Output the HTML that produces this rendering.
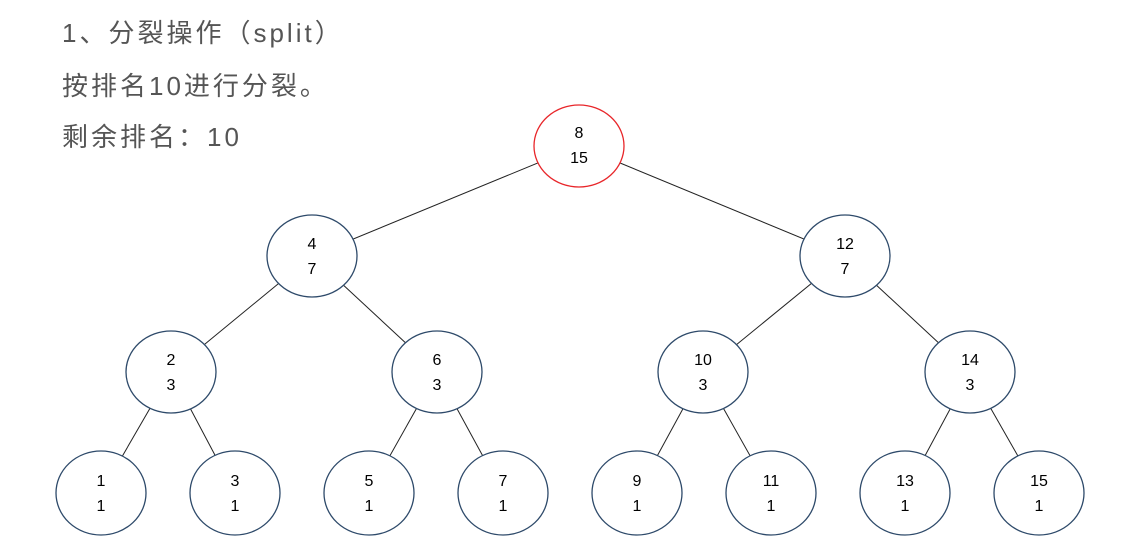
<!DOCTYPE html>
<html><head><meta charset="utf-8"><style>
html,body{margin:0;padding:0;background:#fff;width:1135px;height:556px;overflow:hidden;}
.t{position:absolute;left:62px;font-family:"Liberation Sans","Noto Sans CJK SC",sans-serif;font-size:26px;letter-spacing:3px;color:#555;line-height:30px;}
svg{position:absolute;left:0;top:0;}
</style></head><body>
<div class="t" style="top:18px">1、分裂操作（split）</div>
<div class="t" style="top:71px">按排名10进行分裂。</div>
<div class="t" style="top:122px">剩余排名：10</div>
<svg width="1135" height="556" viewBox="0 0 1135 556" font-family="Liberation Sans, Arial, sans-serif" font-size="16" text-anchor="middle">
<g stroke="#222" stroke-width="1">
<line x1="579" y1="146" x2="312" y2="256"/><line x1="579" y1="146" x2="845" y2="256"/>
<line x1="312" y1="256" x2="171" y2="372"/><line x1="312" y1="256" x2="437" y2="372"/>
<line x1="845" y1="256" x2="703" y2="372"/><line x1="845" y1="256" x2="970" y2="372"/>
<line x1="171" y1="372" x2="101" y2="493"/><line x1="171" y1="372" x2="235" y2="493"/>
<line x1="437" y1="372" x2="369" y2="493"/><line x1="437" y1="372" x2="503" y2="493"/>
<line x1="703" y1="372" x2="637" y2="493"/><line x1="703" y1="372" x2="771" y2="493"/>
<line x1="970" y1="372" x2="905" y2="493"/><line x1="970" y1="372" x2="1039" y2="493"/>
</g>
<g fill="#fff" stroke="#2e4a6a" stroke-width="1.3">
<ellipse cx="579" cy="146" rx="45" ry="41" stroke="#e8262a"/>
<ellipse cx="312" cy="256" rx="45" ry="41"/><ellipse cx="845" cy="256" rx="45" ry="41"/>
<ellipse cx="171" cy="372" rx="45" ry="41"/><ellipse cx="437" cy="372" rx="45" ry="41"/>
<ellipse cx="703" cy="372" rx="45" ry="41"/><ellipse cx="970" cy="372" rx="45" ry="41"/>
<ellipse cx="101" cy="493" rx="45" ry="42"/><ellipse cx="235" cy="493" rx="45" ry="42"/>
<ellipse cx="369" cy="493" rx="45" ry="42"/><ellipse cx="503" cy="493" rx="45" ry="42"/>
<ellipse cx="637" cy="493" rx="45" ry="42"/><ellipse cx="771" cy="493" rx="45" ry="42"/>
<ellipse cx="905" cy="493" rx="45" ry="42"/><ellipse cx="1039" cy="493" rx="45" ry="42"/>
</g>
<g fill="#000">
<text x="579" y="138">8</text><text x="579" y="163">15</text>
<text x="312" y="249">4</text><text x="312" y="274">7</text>
<text x="845" y="249">12</text><text x="845" y="274">7</text>
<text x="171" y="365">2</text><text x="171" y="390">3</text>
<text x="437" y="365">6</text><text x="437" y="390">3</text>
<text x="703" y="365">10</text><text x="703" y="390">3</text>
<text x="970" y="365">14</text><text x="970" y="390">3</text>
<text x="101" y="486">1</text><text x="101" y="511">1</text>
<text x="235" y="486">3</text><text x="235" y="511">1</text>
<text x="369" y="486">5</text><text x="369" y="511">1</text>
<text x="503" y="486">7</text><text x="503" y="511">1</text>
<text x="637" y="486">9</text><text x="637" y="511">1</text>
<text x="771" y="486">11</text><text x="771" y="511">1</text>
<text x="905" y="486">13</text><text x="905" y="511">1</text>
<text x="1039" y="486">15</text><text x="1039" y="511">1</text>
</g>
</svg>
</body></html>
